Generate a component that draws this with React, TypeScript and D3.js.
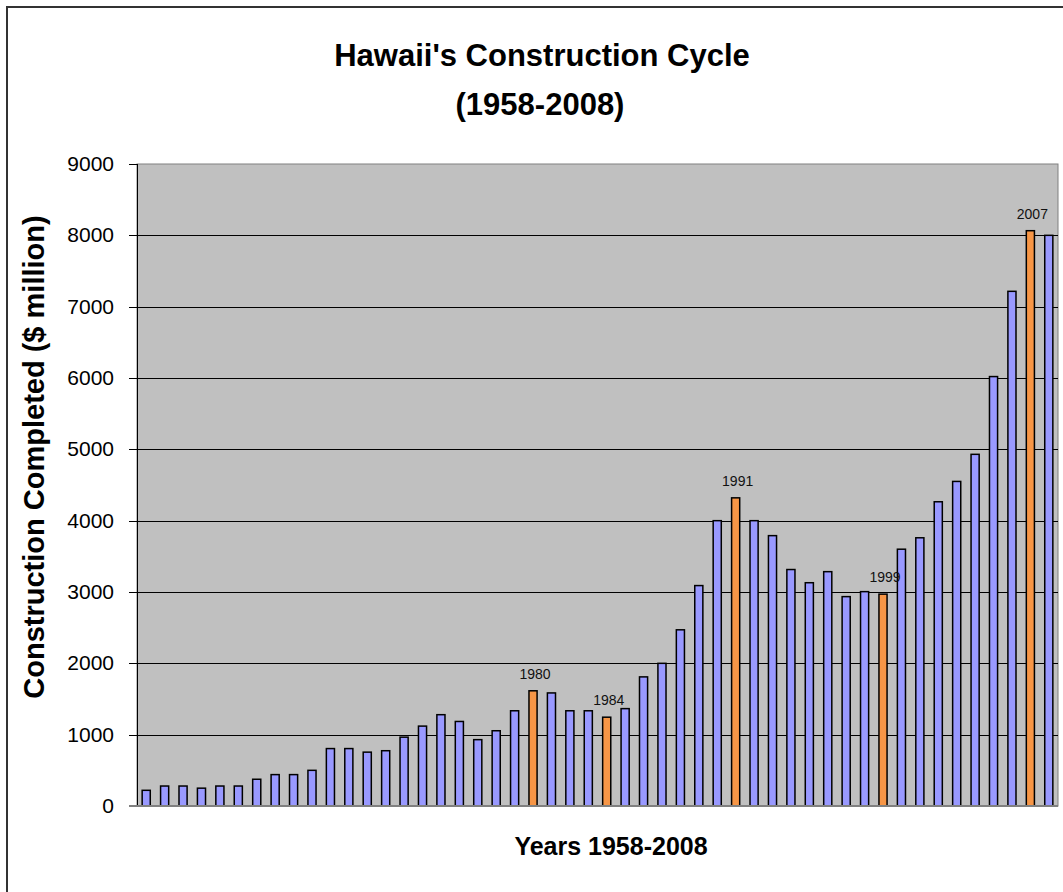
import React from 'react';
import * as d3 from 'd3';

// Hawaii construction completed, $ million
const years = d3.range(1959, 2009);
const values = [
  220, 280, 280, 250, 280, 280, 375, 440, 440, 500,
  805, 805, 755, 775, 965, 1120, 1280, 1185, 930, 1055,
  1335, 1615, 1585, 1335, 1335, 1245, 1365, 1810, 2000, 2470,
  3090, 4000, 4320, 4000, 3790, 3315, 3130, 3285, 2935, 3005,
  2970, 3600, 3760, 4265, 4550, 4930, 6020, 7215, 8065, 8000,
];
const peakYears = [1980, 1984, 1991, 1999, 2007];
const yTicks = [0, 1000, 2000, 3000, 4000, 5000, 6000, 7000, 8000, 9000];

const titleLines = ["Hawaii's Construction Cycle", '(1958-2008)'];
const xTitle = 'Years 1958-2008';
const yTitle = 'Construction Completed ($ million)';

const W = 1063;
const H = 892;
const plot = { left: 137, right: 1058, top: 164, bottom: 806 };
const font = '"Liberation Sans", Arial, sans-serif';

const App = () => {
  const x = d3.scaleBand<number>()
    .domain(years)
    .range([plot.left, plot.right])
    .paddingInner(0.56)
    .paddingOuter(0.28);

  const y = d3.scaleLinear()
    .domain([0, 9000])
    .range([plot.bottom, plot.top]);

  const data = years.map((yr, i) => ({ year: yr, value: values[i] }));

  return (
    <div style={{ position: 'fixed', left: 0, top: 0, width: W, height: H, background: '#fff' }}>
      <svg width={W} height={H} style={{ display: 'block' }} fontFamily={font}>
        {/* chart frame, runs off the page on the right and bottom */}
        <rect x={7} y={7} width={W + 20} height={H + 20} fill="#fff" stroke="#333" strokeWidth={2} />

        {/* title */}
        <text x={542} y={66} textAnchor="middle" fontSize={31} fontWeight="bold">{titleLines[0]}</text>
        <text x={540} y={115} textAnchor="middle" fontSize={31} fontWeight="bold">{titleLines[1]}</text>

        {/* plot area */}
        <rect x={plot.left} y={plot.top} width={plot.right - plot.left} height={plot.bottom - plot.top}
          fill="#C0C0C0" stroke="#808080" strokeWidth={1} />

        {/* gridlines */}
        {yTicks.filter(t => t > 0 && t < 9000).map(t => (
          <line key={t} x1={plot.left} x2={plot.right} y1={Math.round(y(t)) + 0.5} y2={Math.round(y(t)) + 0.5}
            stroke="#000" strokeWidth={1} />
        ))}

        {/* y axis */}
        <line x1={plot.left + 0.5} x2={plot.left + 0.5} y1={plot.top} y2={plot.bottom} stroke="#000" strokeWidth={1} />
        {yTicks.map(t => (
          <g key={t}>
            <line x1={plot.left - 8} x2={plot.left} y1={Math.round(y(t)) + 0.5} y2={Math.round(y(t)) + 0.5}
              stroke="#000" strokeWidth={1} />
            <text x={plot.left - 23} y={y(t) + 7} textAnchor="end" fontSize={21}>{t}</text>
          </g>
        ))}

        {/* bars */}
        {data.map(d => (
          <rect key={d.year}
            x={x(d.year)}
            y={y(d.value)}
            width={x.bandwidth()}
            height={y(0) - y(d.value)}
            fill={peakYears.includes(d.year) ? '#F79646' : '#9999FF'}
            stroke="#000" strokeWidth={1.5} />
        ))}

        {/* x axis baseline */}
        <line x1={plot.left - 8} x2={plot.right} y1={plot.bottom} y2={plot.bottom} stroke="#808080" strokeWidth={2} />

        {/* peak labels */}
        {data.filter(d => peakYears.includes(d.year)).map(d => (
          <text key={d.year} x={(x(d.year) ?? 0) + x.bandwidth() / 2 + 2} y={y(d.value) - 12}
            textAnchor="middle" fontSize={14} fill="#111">{d.year}</text>
        ))}

        {/* axis titles */}
        <text x={611} y={855} textAnchor="middle" fontSize={25} fontWeight="bold">{xTitle}</text>
        <text transform={`translate(44,${(plot.top + plot.bottom) / 2 - 28}) rotate(-90)`}
          textAnchor="middle" fontSize={29} fontWeight="bold">{yTitle}</text>
      </svg>
    </div>
  );
};

export default App;
